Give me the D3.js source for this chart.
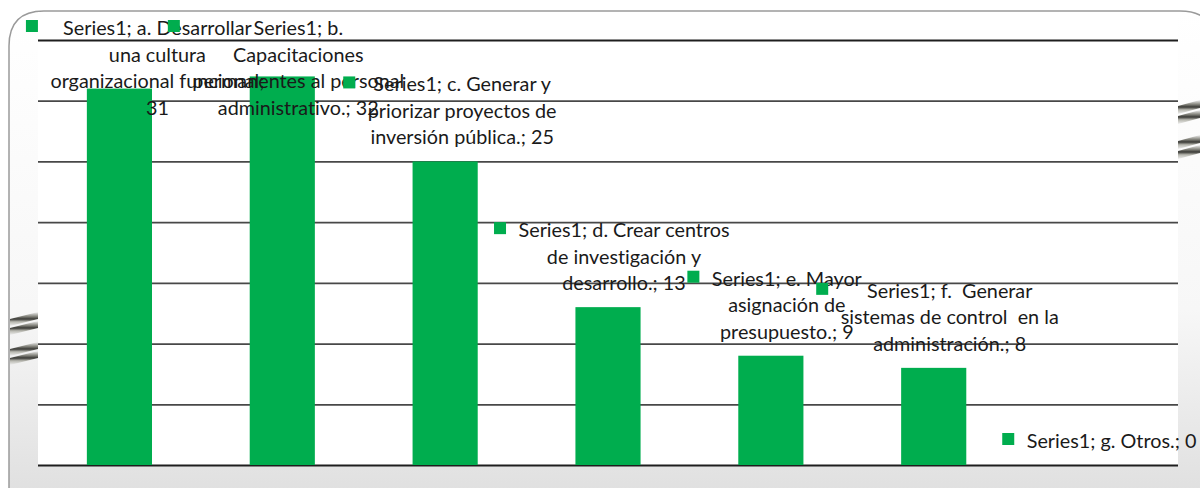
<!DOCTYPE html>
<html><head><meta charset="utf-8">
<script src="https://cdn.jsdelivr.net/npm/d3@7"></script>
<style>html,body{margin:0;padding:0;background:#fff;overflow:hidden} text{white-space:pre;font-variant-ligatures:none;font-feature-settings:"liga" 0}</style>
</head><body>
<svg id="c" width="1200" height="488"></svg>
<script>
const categories = ["a. Desarrollar una cultura organizacional funcional", "b. Capacitaciones permanentes al personal administrativo.", "c. Generar y priorizar proyectos de inversión pública.", "d. Crear centros de investigación y desarrollo.", "e. Mayor asignación de presupuesto.", "f.  Generar sistemas de control  en la administración.", "g. Otros."];
const seriesName = "Series1";
const values = [31, 32, 25, 13, 9, 8, 0];
const yTicks = [0, 5, 10, 15, 20, 25, 30, 35];
const labelLines = [
  ["Series1; a. Desarrollar", "una cultura", "organizacional funcional;", "31"],
  ["Series1; b.", "Capacitaciones", "permanentes al personal", "administrativo.; 32"],
  ["Series1; c. Generar y", "priorizar proyectos de", "inversión pública.; 25"],
  ["Series1; d. Crear centros", "de investigación y", "desarrollo.; 13"],
  ["Series1; e. Mayor", "asignación de", "presupuesto.; 9"],
  ["Series1; f.  Generar", "sistemas de control  en la", "administración.; 8"],
  ["Series1; g. Otros.; 0"]
];

const svg = d3.select("#c");
const W = 1200, H = 488;
const plot = {l: 38, r: 1178, t: 40, b: 465};
const fontFam = "Lato, 'Open Sans', sans-serif";
const fs = 19.8;
const green = "#00ad4e";

const defs = svg.append("defs");
const bgGrad = defs.append("linearGradient").attr("id","bg").attr("x1",0).attr("y1",0).attr("x2",0).attr("y2",1);
bgGrad.append("stop").attr("offset","0%").attr("stop-color","#ffffff");
bgGrad.append("stop").attr("offset","60%").attr("stop-color","#f7f7f7");
bgGrad.append("stop").attr("offset","100%").attr("stop-color","#dedede");
const metal = defs.append("linearGradient").attr("id","metal").attr("x1",0).attr("y1",0).attr("x2",0).attr("y2",1);
[["0%","#f4f4f4"],["30%","#8a8a82"],["50%","#3a3a36"],["70%","#b8b8b0"],["100%","#f0f0f0"]].forEach(s=>metal.append("stop").attr("offset",s[0]).attr("stop-color",s[1]));

// slide frame with background
svg.append("path")
  .attr("d", `M9,${H+20} L9,46 Q9,11 44,11 L1180,11 Q1215,11 1215,46 L1215,${H+20} Z`)
  .attr("fill","url(#bg)").attr("stroke","#9a9a9a").attr("stroke-width",1.5);

// metallic decorations
function stripes(x0, x1, y0, rise, n, gap, th) {
  for (let i = 0; i < n; i++) {
    const yy = y0 + i*gap;
    svg.append("path")
      .attr("d", `M${x0},${yy+rise} L${x1},${yy} L${x1},${yy+th} L${x0},${yy+rise+th} Z`)
      .attr("fill","url(#metal)");
  }
}
stripes(10, 38, 312, 7, 2, 9, 7);
stripes(10, 38, 342, 7, 2, 9, 7);
stripes(1178, 1200, 100, 6, 2, 10, 8);
stripes(1178, 1200, 135, 6, 2, 10, 8);

// white chart area
svg.append("rect").attr("x",plot.l).attr("y",12).attr("width",plot.r-plot.l).attr("height",plot.b-12).attr("fill","#fff");

const x = d3.scaleBand().domain(categories).range([plot.l, plot.r]).padding(0);
const y = d3.scaleLinear().domain([0, 35]).range([plot.b, plot.t]);

// gridlines via axis
const gAxis = svg.append("g").attr("transform",`translate(${plot.l},0)`)
  .call(d3.axisLeft(y).tickValues(yTicks).tickSize(-(plot.r-plot.l)).tickFormat(""));
gAxis.select(".domain").remove();
gAxis.selectAll(".tick line").attr("stroke",d=> (d===35||d===0)?"#1e1e1e":"#484848").attr("stroke-width",d=> (d===35||d===0)?2:1.8);

// bars
const bw = x.bandwidth()/2.5;
svg.append("g").selectAll("rect").data(values).join("rect")
  .attr("x",(d,i)=>x(categories[i]) + x.bandwidth()/2 - bw/2)
  .attr("width",bw)
  .attr("y",d=>y(d))
  .attr("height",d=>plot.b - y(d))
  .attr("fill",green);

// labels
const lineH = 26.5;
const dxOff = [38, 16, 17, 16, 16, 16, 15];
const gl = svg.append("g");
labelLines.forEach((lines, i) => {
  const cx = x(categories[i]) + x.bandwidth()/2 + dxOff[i];
  let firstY = y(values[i]) - 25 - (lines.length-1)*lineH;
  if (firstY < 27) firstY = 27;
  const g = gl.append("g");
  let maxW = 0;
  lines.forEach((t, j) => {
    const tx = g.append("text").attr("x",cx).attr("y",firstY + j*lineH)
      .attr("text-anchor","middle").attr("dominant-baseline","central")
      .attr("font-family",fontFam).attr("font-size",fs).attr("fill","#1a1a1a").text(t);
    maxW = Math.max(maxW, tx.node().getComputedTextLength());
  });
  g.append("rect").attr("x",cx - maxW/2 - 24.5).attr("y",firstY-7).attr("width",12).attr("height",12).attr("fill",green);
});
</script>
</body></html>
